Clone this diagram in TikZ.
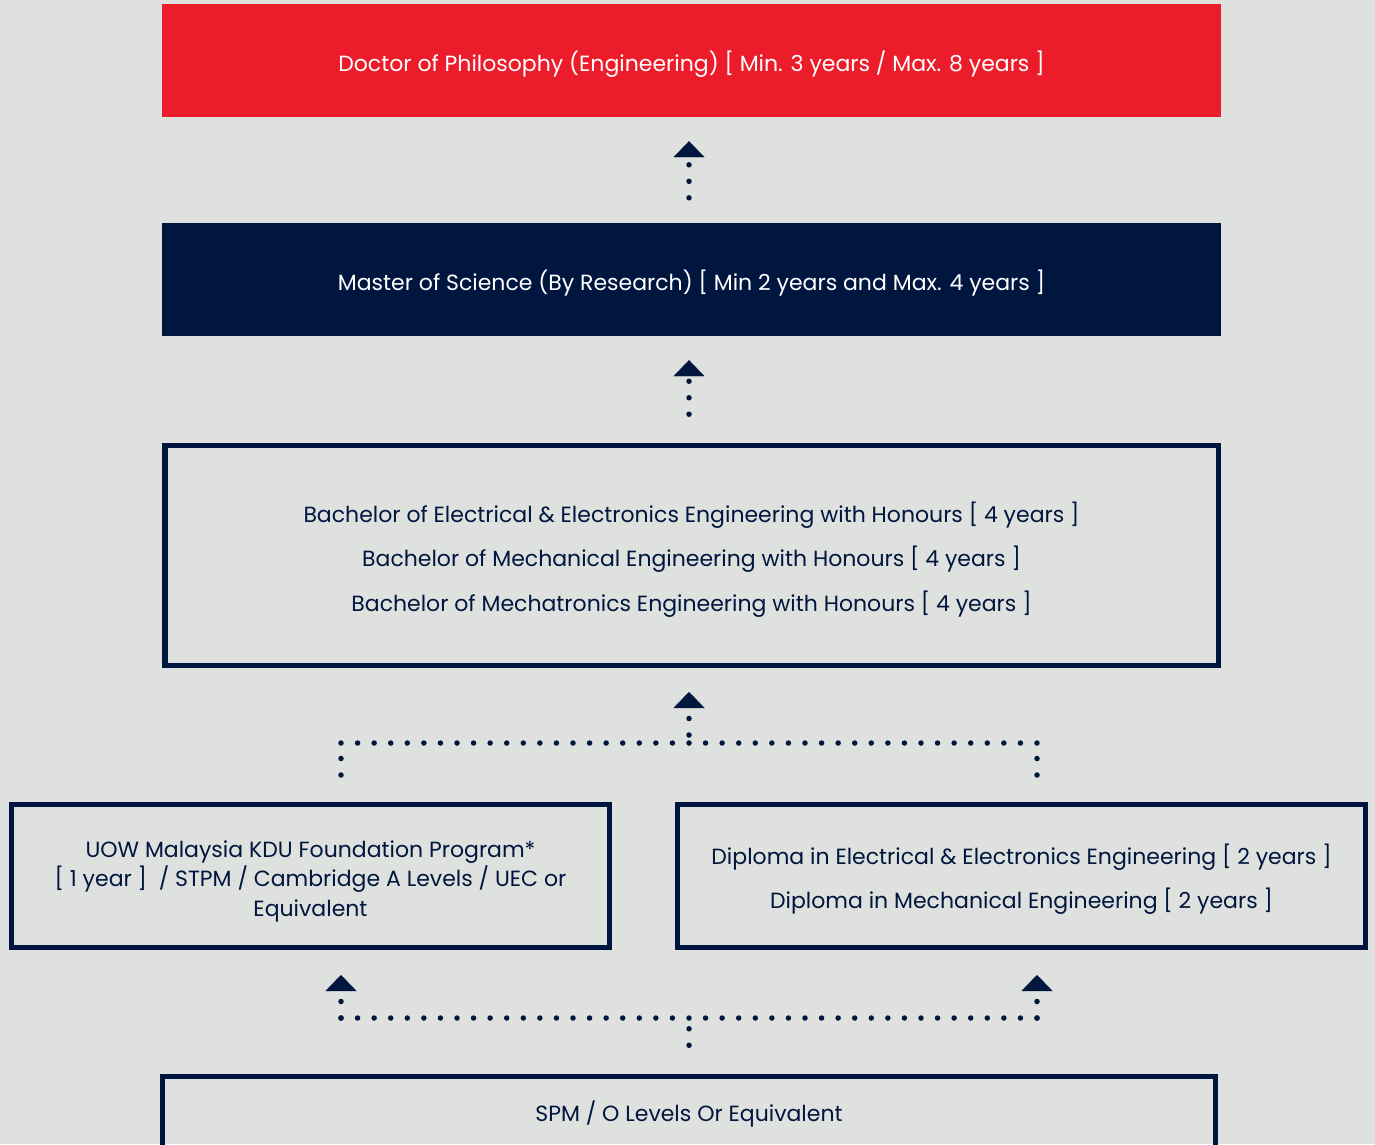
\documentclass[tikz,border=0pt]{standalone}
\usepackage{fontspec}
\setmainfont{Poppins}
\usetikzlibrary{arrows.meta,calc}
\definecolor{navy}{HTML}{00163F}
\definecolor{redbox}{HTML}{ED1C2B}
\definecolor{bg}{HTML}{DFE1DE}
\tikzset{
  solidbox/.style={draw=none, minimum width=1059pt, minimum height=113pt, inner sep=0pt},
  outbox/.style={draw=navy, line width=5.5pt, inner sep=0pt},
  whitetext/.style={text=white, inner sep=0pt, font=\fontsize{22}{26}\selectfont},
  navytext/.style={text=navy, inner sep=0pt, align=center},
  dotline/.style={navy, line width=5.5pt, line cap=round, dash pattern=on 0pt off 16.5pt},
  hdots/.style={navy, line width=5.5pt, line cap=round, dash pattern=on 0pt off 16.571pt},
  uparrow/.style={-{Triangle[width=31pt,length=16pt,line width=0.1pt]}},
}
\begin{document}
\begin{tikzpicture}[x=1pt,y=-1pt]
\fill[bg] (0,0) rectangle (1375,1144);
\useasboundingbox (0,0) rectangle (1375,1144);
% boxes
\node[solidbox, fill=redbox] (phd) at (691.5,60.5) {};
\node[solidbox, fill=navy] (msc) at (691.5,279.5) {};
\node[outbox, minimum width=1053.5pt, minimum height=220pt] (bach) at (691.5,555.5) {};
\node[outbox, minimum width=598pt, minimum height=143pt] (found) at (310.5,876) {};
\node[outbox, minimum width=688pt, minimum height=143pt] (dipl) at (1021.5,876) {};
\node[outbox, minimum width=1053pt, minimum height=72pt] (spm) at (689,1112.5) {};
% texts
\node[whitetext] (phdtxt) at ([yshift=-4pt]phd.center) {Doctor of Philosophy (Engineering) [ Min. 3 years / Max. 8 years ]};
\node[whitetext] (msctxt) at ([yshift=-3.5pt]msc.center) {Master of Science (By Research) [ Min 2 years and Max. 4 years ]};
\node[navytext, font=\fontsize{22}{44.5}\selectfont] (bachtxt) at ([yshift=-4pt]bach.center)
  {Bachelor of Electrical \& Electronics Engineering with Honours [ 4 years ]\\
   Bachelor of Mechanical Engineering with Honours [ 4 years ]\\
   Bachelor of Mechatronics Engineering with Honours [ 4 years ]};
\node[navytext, font=\fontsize{22}{29.5}\selectfont] (foundtxt) at ([yshift=-5pt]found.center)
  {UOW Malaysia KDU Foundation Program*\\
   {[} 1 year {]}~ / STPM / Cambridge A Levels / UEC or\\
   Equivalent};
\node[navytext, font=\fontsize{22}{44}\selectfont] (dipltxt) at ([yshift=-3.5pt]dipl.center)
  {Diploma in Electrical \& Electronics Engineering [ 2 years ]\\
   Diploma in Mechanical Engineering [ 2 years ]};
\node[navytext, font=\fontsize{22}{26}\selectfont] (spmtxt) at ([yshift=-1.5pt]spm.center)
  {SPM / O Levels Or Equivalent};
% coordinates
\coordinate (jl) at (341,743);
\coordinate (jr) at (1037,743);
\coordinate (fl) at (341,775);
\coordinate (fr) at (1037,775);
\coordinate (bm) at (689,735);
\coordinate (bapex) at (689,692);
\coordinate (sl) at (341,1018);
\coordinate (sr) at (1037,1018);
\coordinate (sm) at (689,1018);
\coordinate (lapex) at (341,975);
\coordinate (rapex) at (1037,975);
% connectors
\draw[dotline, uparrow, shorten <=25pt, shorten >=24pt] ([xshift=-2.5pt]msc.north) -- ([xshift=-2.5pt]phd.south);
\draw[dotline, uparrow, shorten <=28.5pt, shorten >=24pt] ([xshift=-2.5pt]bach.north) -- ([xshift=-2.5pt]msc.south);
\draw[dotline] (fl) -- (jl);
\draw[dotline] (fr) -- (jr);
\draw[hdots] (jl) -- (jr);
\draw[dotline, uparrow] (bm) -- (bapex);
\draw[dotline, shorten <=28.5pt] (spm.north) -- (sm);
\draw[hdots] (sl) -- (sr);
\draw[dotline, uparrow] (sl) -- (lapex);
\draw[dotline, uparrow] (sr) -- (rapex);
\end{tikzpicture}
\end{document}
